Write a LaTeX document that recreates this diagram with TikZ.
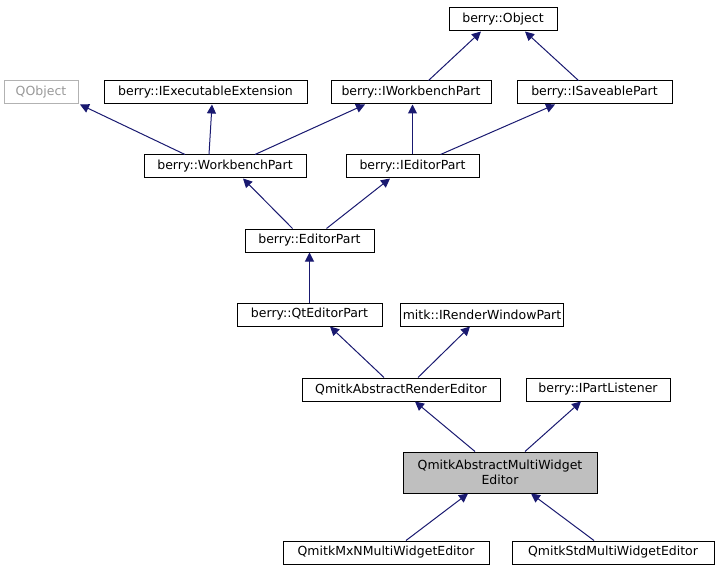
\documentclass[tikz,border=0pt]{standalone}
\usepackage{fontspec}
\setmainfont{DejaVu Sans}
\usetikzlibrary{arrows.meta}
\begin{document}
\begin{tikzpicture}[x=1pt,y=-1pt,
  box/.style={draw=black,fill=white,line width=1pt,minimum height=23pt,inner sep=2pt,font=\fontsize{12.5}{14.5}\selectfont},
  inh/.style={draw=midnightblue,line width=1pt,-{Triangle[length=9pt,width=9pt]},shorten >=0pt}]
\definecolor{midnightblue}{HTML}{191970}
\useasboundingbox (0,0) rectangle (718,575);
\node[box,minimum width=108pt] (obj) at (503,19.5) {berry::Object};
\node[box,draw=gray!60,text=gray!80,minimum width=74pt] (qo) at (41,92.5) {QObject};
\node[box,minimum width=203pt] (iee) at (205.5,92.5) {berry::IExecutableExtension};
\node[box,minimum width=160pt] (iwp) at (411,92.5) {berry::IWorkbenchPart};
\node[box,minimum width=155pt] (isp) at (594.5,92.5) {berry::ISaveablePart};
\node[box,minimum width=162pt] (wp) at (225,166.5) {berry::WorkbenchPart};
\node[box,minimum width=133pt] (iep) at (412.5,166.5) {berry::IEditorPart};
\node[box,minimum width=129pt] (ep) at (309.5,240.5) {berry::EditorPart};
\node[box,minimum width=145pt] (qep) at (309.5,314.5) {berry::QtEditorPart};
\node[box,minimum width=162pt] (irw) at (482,314.5) {mitk::IRenderWindowPart};
\node[box,minimum width=198pt] (are) at (401,389.5) {QmitkAbstractRenderEditor};
\node[box,minimum width=144pt] (ipl) at (598,389.5) {berry::IPartListener};
\node[box,fill=gray!50,minimum width=194pt,minimum height=41pt,align=center] (amw) at (500,472.5) {QmitkAbstractMultiWidget\\Editor};
\node[box,minimum width=206pt] (mxn) at (386,552.5) {QmitkMxNMultiWidgetEditor};
\node[box,minimum width=202pt] (std) at (613,552.5) {QmitkStdMultiWidgetEditor};
\draw[inh] (iwp.north east)++(-63,0) -- (obj.south -| 481,0);
\draw[inh] (isp.north)++(-16,0) -- (obj.south -| 525,0);
\draw[inh] (wp.north)++(-40,0) -- (qo.south -| 80,0);
\draw[inh] (wp.north)++(-16,0) -- (iee.south -| 212,0);
\draw[inh] (wp.north)++(30,0) -- (iwp.south -| 365,0);
\draw[inh] (iep.north) -- (iwp.south -| 412.5,0);
\draw[inh] (iep.north)++(28,0) -- (isp.south -| 555,0);
\draw[inh] (ep.north)++(-17,0) -- (wp.south -| 243,0);
\draw[inh] (ep.north)++(17,0) -- (iep.south -| 390,0);
\draw[inh] (qep.north) -- (ep.south);
\draw[inh] (are.north)++(-17,0) -- (qep.south -| 330,0);
\draw[inh] (are.north)++(17,0) -- (irw.south -| 470,0);
\draw[inh] (amw.north)++(-25,0) -- (are.south -| 415,0);
\draw[inh] (amw.north)++(25,0) -- (ipl.south -| 581,0);
\draw[inh] (mxn.north)++(20,0) -- (amw.south -| 468,0);
\draw[inh] (std.north)++(-19,0) -- (amw.south -| 531,0);
\end{tikzpicture}
\end{document}
